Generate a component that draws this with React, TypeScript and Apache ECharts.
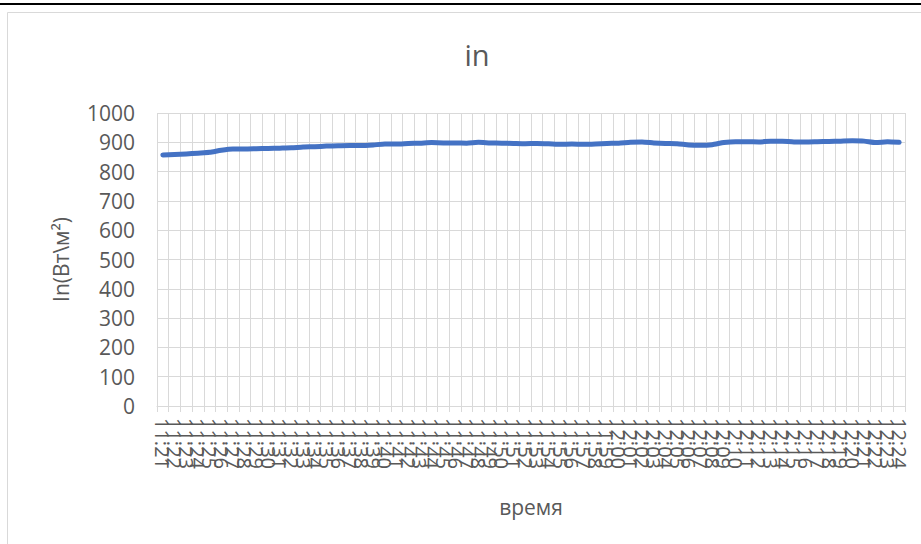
import React, { useEffect, useRef } from "react";
import * as echarts from "echarts";

const times: string[] = [
  "11:21", "11:22", "11:23", "11:24", "11:25", "11:26", "11:27", "11:28", "11:29",
  "11:30", "11:31", "11:32", "11:33", "11:34", "11:35", "11:36", "11:37", "11:38", "11:39",
  "11:40", "11:41", "11:42", "11:43", "11:44", "11:45", "11:46", "11:47", "11:48", "11:49",
  "11:50", "11:51", "11:52", "11:53", "11:54", "11:55", "11:56", "11:57", "11:58", "11:59",
  "12:00", "12:01", "12:02", "12:03", "12:04", "12:05", "12:06", "12:07", "12:08", "12:09",
  "12:10", "12:11", "12:12", "12:13", "12:14", "12:15", "12:16", "12:17", "12:18", "12:19",
  "12:20", "12:21", "12:22", "12:23", "12:24",
];

const irradiance: number[] = [
  857, 858, 860, 863, 866, 873, 877, 877, 878, 879,
  880, 881, 884, 885, 887, 888, 889, 889, 891, 894,
  894, 896, 897, 899, 898, 898, 897, 900, 898, 897,
  896, 895, 896, 895, 893, 894, 893, 894, 896, 897,
  900, 901, 898, 896, 895, 891, 890, 892, 899, 902,
  902, 901, 904, 904, 901, 901, 902, 903, 904, 905,
  904, 899, 902, 900,
];

const yTicks = { min: 0, max: 1000, interval: 100 };

const FONT = "Open Sans";
const TEXT = "#595959";
const GRID = "#d9d9d9";

export default function App() {
  const ref = useRef<HTMLDivElement>(null);
  useEffect(() => {
    document.body.style.margin = "0";
    if (!ref.current) return;
    const chart = echarts.init(ref.current, undefined, { renderer: "svg" });
    chart.setOption({
      animation: false,
      backgroundColor: "#ffffff",
      textStyle: { fontFamily: FONT },
      title: {
        text: "in",
        left: 472,
        top: 35,
        textAlign: "center",
        textStyle: { fontFamily: FONT, fontSize: 29, fontWeight: "normal", color: TEXT },
      },
      graphic: [
        { type: "rect", shape: { x: 0, y: 3, width: 921, height: 2 }, style: { fill: "#000" } },
        {
          type: "rect",
          shape: { x: 7.5, y: 12.5, width: 940, height: 560 },
          style: { fill: "none", stroke: GRID, lineWidth: 1 },
        },
      ],
      grid: { left: 157, right: 16, top: 113, bottom: 138, containLabel: false },
      xAxis: {
        type: "category",
        data: times,
        boundaryGap: true,
        name: "время",
        nameLocation: "middle",
        nameGap: 90,
        nameTextStyle: { fontFamily: FONT, fontSize: 21, color: TEXT },
        axisLine: { show: true, lineStyle: { color: GRID, width: 1 } },
        axisTick: { show: true, interval: 0, length: 6, lineStyle: { color: GRID } },
        splitLine: { show: true, interval: 0, lineStyle: { color: GRID, width: 1 } },
        axisLabel: {
          interval: 0,
          rotate: -90,
          margin: 12,
          fontFamily: FONT,
          fontSize: 20,
          color: TEXT,
        },
      },
      yAxis: {
        type: "value",
        min: yTicks.min,
        max: yTicks.max,
        interval: yTicks.interval,
        name: "In(Вт\\м²)",
        nameLocation: "middle",
        nameGap: 86,
        nameTextStyle: { fontFamily: FONT, fontSize: 21, color: TEXT },
        axisLine: { show: false },
        axisTick: { show: false },
        splitLine: { show: true, lineStyle: { color: GRID, width: 1 } },
        axisLabel: {
          margin: 22,
          fontFamily: FONT,
          fontSize: 21,
          color: TEXT,
          formatter: (v: number) => String(v),
        },
      },
      series: [
        {
          type: "line",
          data: irradiance,
          showSymbol: false,
          smooth: 0.2,
          lineStyle: { color: "#4472C4", width: 5, cap: "round", join: "round" },
          itemStyle: { color: "#4472C4" },
        },
      ],
    });
    return () => chart.dispose();
  }, []);
  return <div ref={ref} style={{ width: 921, height: 544 }} />;
}
